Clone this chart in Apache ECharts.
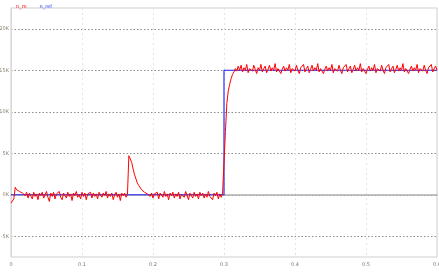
<!DOCTYPE html>
<html><head><meta charset="utf-8">
<script src="https://cdn.jsdelivr.net/npm/echarts@6/dist/echarts.min.js"></script>
<style>html,body{margin:0;padding:0;background:#fff}#c{width:439px;height:272px}</style>
</head><body><div id="c"></div>
<script>
// sample spacing of the measured trace (s)
const tStep = 0.002;
// measured speed, in K units
const measured = [
-1.0,-0.9,-0.5,0.9,0.6,0.7,0.4,0.5,0.2,0.4,
-0.1,0.3,-0.4,0.2,0.0,-0.5,0.3,-0.2,0.1,-0.6,
0.2,-0.1,0.3,-0.4,0.0,0.4,-0.3,-0.8,0.2,-0.2,
0.3,-0.5,0.1,-0.1,0.4,-0.3,-0.6,0.2,0.0,-0.4,
0.3,-0.2,0.1,-0.7,0.2,-0.1,0.4,-0.3,0.0,-0.5,
0.3,-0.2,0.2,-0.6,0.1,-0.1,0.3,-0.4,0.2,-0.2,
0.1,-0.5,0.3,0.0,-0.3,0.2,-0.1,0.4,-0.4,0.1,
-0.2,0.2,-0.6,0.0,0.3,-0.3,0.1,-0.7,0.2,-0.1,
0.2,-0.3,0.0,4.7,4.5,3.9,3.1,2.4,1.9,1.4,
1.1,0.9,0.6,0.7,0.3,0.5,0.1,0.3,-0.2,0.2,
-0.4,0.1,-0.1,0.3,-0.5,0.2,0.0,-0.3,0.4,-0.2,
0.1,-0.6,0.2,-0.1,0.3,-0.4,0.1,-0.2,0.3,-0.5,
0.0,0.2,-0.3,0.4,-0.1,-0.6,0.2,0.0,-0.4,0.3,
-0.2,0.1,-0.5,0.3,-0.1,0.2,-0.4,0.1,-0.3,0.4,
-0.2,0.0,-0.6,0.2,-0.1,0.3,-0.5,0.1,-0.3,0.2,
0.0,7.6,11.0,12.5,13.3,14.0,14.5,14.8,15.2,14.9,
15.5,15.0,15.6,14.8,15.3,15.0,15.7,14.7,15.2,15.4,
14.9,15.6,15.1,14.6,15.3,15.0,15.7,14.8,15.2,15.5,
14.7,15.1,15.6,14.9,15.3,15.0,15.8,14.8,15.2,15.4,
14.6,15.1,15.5,14.9,15.3,15.0,15.7,14.7,15.2,15.4,
14.9,15.6,15.0,14.6,15.3,15.1,15.7,14.8,15.2,15.5,
14.7,15.1,15.6,14.9,15.3,15.0,15.8,14.8,15.2,15.4,
14.6,15.1,15.5,14.9,15.3,15.0,15.7,14.7,15.2,15.4,
14.9,15.6,15.0,14.6,15.3,15.1,15.7,14.8,15.2,15.5,
14.7,15.1,15.6,14.9,15.3,15.0,15.8,14.8,15.2,15.4,
14.6,15.1,15.5,14.9,15.3,15.0,15.7,14.7,15.2,15.4,
14.9,15.6,15.0,14.6,15.3,15.1,15.7,14.8,15.2,15.5,
14.7,15.1,15.6,14.9,15.3,15.0,15.8,14.8,15.2,15.4,
14.6,15.1,15.5,14.9,15.3,15.0,15.7,14.7,15.2,15.4,
14.9,15.6,15.0,14.6,15.3,15.1,15.7,14.8,15.2,15.5,
15.0
];
// reference speed step
const refTimes = [0, 0.3, 0.3, 0.6];
const refValues = [0, 0, 15, 15];
const seriesNames = ['n_m', 'n_ref'];
const yTickLabels = {'-5':'-5K','0':'0K','5':'5K','10':'10K','15':'15K','20':'20K'};
const xTickLabels = {'0':'0','0.1':'0.1','0.2':'0.2','0.3':'0.3','0.4':'0.4','0.5':'0.5','0.6':'0.6'};
const xTitle = 'Time(s)';

const measData = measured.map((v, i) => [+(i * tStep).toFixed(4), v]);
const refData = refTimes.map((t, i) => [t, refValues[i]]);

const chart = echarts.init(document.getElementById('c'), null, {renderer: 'canvas'});
chart.setOption({
  animation: false,
  backgroundColor: '#fff',
  textStyle: {fontFamily: 'DejaVu Sans'},
  legend: {
    left: 6, top: -1, itemWidth: 0, itemHeight: 0, itemGap: 8, icon: 'none',
    textStyle: {fontSize: 5},
    data: [
      {name: seriesNames[0], textStyle: {color: '#ff0000'}},
      {name: seriesNames[1], textStyle: {color: '#3030ff'}}
    ]
  },
  grid: {left: 11, right: 2, top: 8, bottom: 15, show: true, borderColor: '#cfcfcf', borderWidth: 1,
    containLabel: false, outerBoundsMode: 'none'},
  xAxis: {
    type: 'value', min: 0, max: 0.6, interval: 0.1,
    name: xTitle, nameLocation: 'middle', nameGap: 10,
    nameTextStyle: {fontSize: 5, color: '#334'},
    axisLine: {show: true, lineStyle: {color: '#b0b0b0', width: 1.5}},
    axisTick: {show: false},
    axisLabel: {fontSize: 5, color: '#777', margin: 5,
      formatter: v => xTickLabels[String(+v.toFixed(1))] || ''},
    splitLine: {show: true, lineStyle: {color: '#e4e4e4', type: [2, 3], width: 1}}
  },
  yAxis: {
    type: 'value', min: -7.5, max: 22.5, splitNumber: 6,
    axisLine: {show: true, lineStyle: {color: '#d8d8d8'}},
    axisTick: {show: false},
    axisLabel: {fontSize: 5, color: '#8a7f70', margin: 2, showMinLabel: false, showMaxLabel: false,
      formatter: v => yTickLabels[String(v)] || ''},
    splitLine: {show: true, showMinLine: false, showMaxLine: false,
      lineStyle: {color: '#8c8c8c', type: [1.5, 2], width: 1}}
  },
  series: [
    {name: seriesNames[1], type: 'line', data: refData, showSymbol: false, z: 2,
      lineStyle: {color: '#2a2aff', width: 1.2}, itemStyle: {color: '#3030ff'}},
    {name: seriesNames[0], type: 'line', data: measData, showSymbol: false, z: 3,
      lineStyle: {color: '#ff0000', width: 1}, itemStyle: {color: '#ff0000'}}
  ]
});
</script></body></html>
